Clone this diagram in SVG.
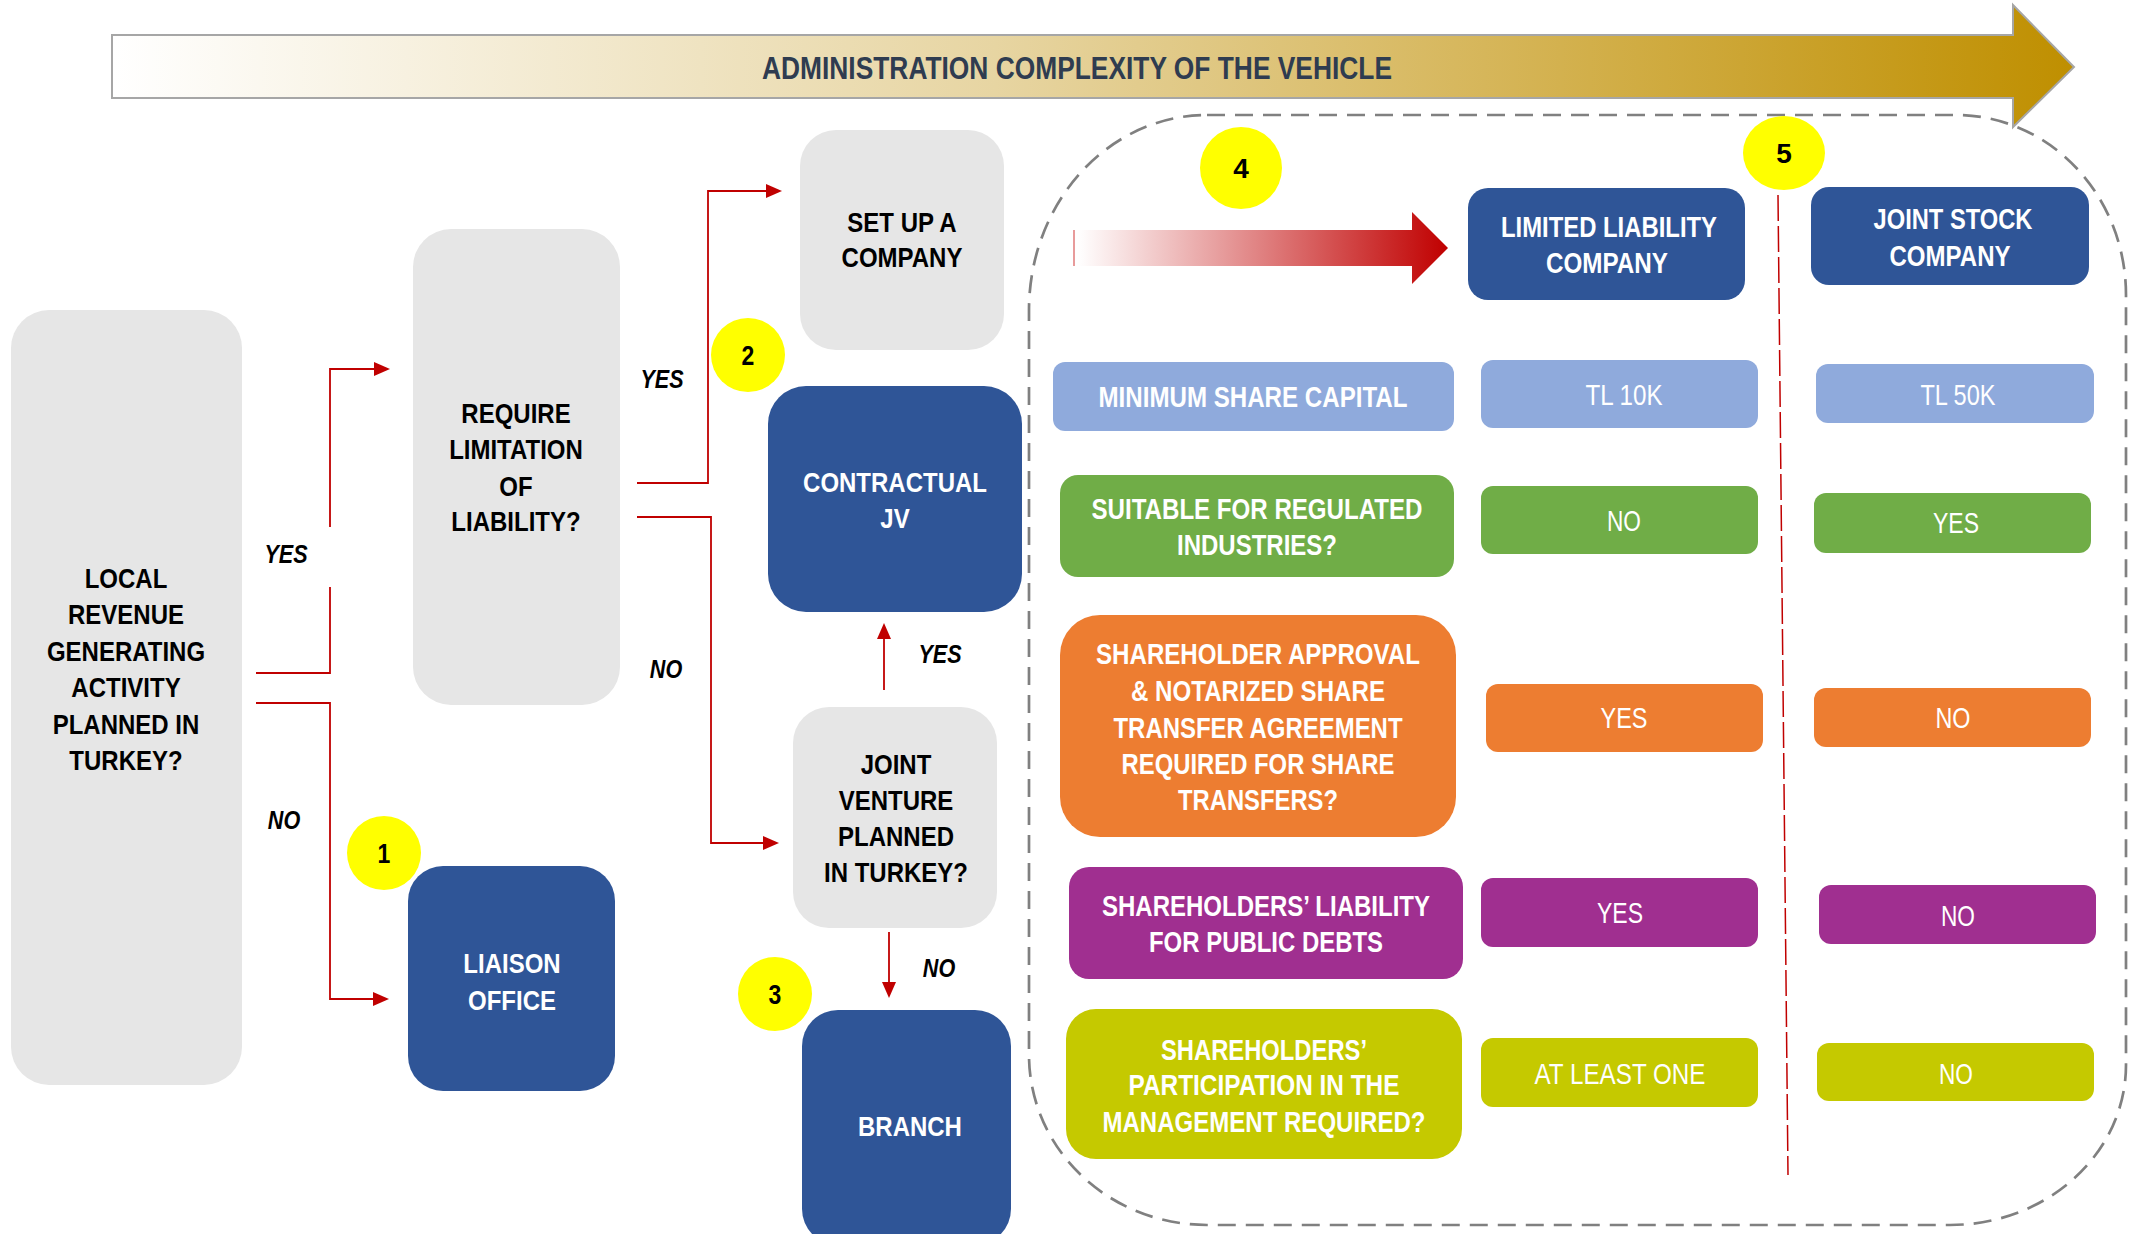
<svg xmlns="http://www.w3.org/2000/svg" width="2135" height="1234" viewBox="0 0 2135 1234">
<defs>
  <linearGradient id="gBanner" gradientUnits="userSpaceOnUse" x1="112" y1="0" x2="2074" y2="0">
    <stop offset="0" stop-color="#FFFFFF"/>
    <stop offset="0.45" stop-color="#E7D5A2"/>
    <stop offset="0.7" stop-color="#D6B65A"/>
    <stop offset="1" stop-color="#BF8F00"/>
  </linearGradient>
  <linearGradient id="gRed" gradientUnits="userSpaceOnUse" x1="1078" y1="0" x2="1448" y2="0">
    <stop offset="0" stop-color="#FFFFFF"/>
    <stop offset="1" stop-color="#C00000"/>
  </linearGradient>
  <marker id="ah" viewBox="0 0 16 14" refX="13" refY="7" markerWidth="16" markerHeight="14" markerUnits="userSpaceOnUse" orient="auto">
    <path d="M0,0 L16,7 L0,14 Z" fill="#C00000"/>
  </marker>
  <style>
    .gray{fill:#E6E6E6}
    .blue{fill:#2F5597}
    .tb{font-family:"Liberation Sans",Arial,sans-serif;font-weight:bold;font-size:28px;fill:#000;text-anchor:middle}
    .tw{font-family:"Liberation Sans",Arial,sans-serif;font-weight:bold;font-size:28px;fill:#FFF;text-anchor:middle}
    .lbl{font-family:"Liberation Sans",Arial,sans-serif;font-weight:bold;font-style:italic;font-size:26px;fill:#000;text-anchor:middle}
    .num{font-family:"Liberation Sans",Arial,sans-serif;font-weight:bold;font-size:28px;fill:#000;text-anchor:middle}
    .nb{font-family:"Liberation Sans Narrow","Arial Narrow","Liberation Sans",Arial,sans-serif;font-weight:bold;font-size:29px;fill:#FFF;text-anchor:middle}
    .nr{font-family:"Liberation Sans Narrow","Arial Narrow","Liberation Sans",Arial,sans-serif;font-weight:normal;font-size:29px;fill:#FFF;text-anchor:middle}
    .badge{fill:#FFFF00}
    .conn{fill:none;stroke:#C00000;stroke-width:1.8}
    .lb{fill:#8FAADC}.gr{fill:#70AD47}.or{fill:#ED7D31}.pu{fill:#A02F90}.yg{fill:#C5C900}
  </style>
</defs>

<!-- Banner arrow -->
<g id="banner">
  <polygon points="112,35 2013,35 2013,5 2074,67 2013,127 2013,98 112,98" fill="url(#gBanner)" stroke="#A6A6A6" stroke-width="2"/>
  <text x="1077" y="79" font-family="'Liberation Sans Narrow','Arial Narrow','Liberation Sans',Arial,sans-serif" font-weight="bold" font-size="31" fill="#2F3C50" text-anchor="middle" textLength="630" lengthAdjust="spacingAndGlyphs">ADMINISTRATION COMPLEXITY OF THE VEHICLE</text>
</g>

<!-- Dashed container -->
<g id="container">
  <path d="M1207,115 H1956 A170,180 0 0 1 2126,295 V1065 A176,160 0 0 1 1950,1225 H1207 A178,170 0 0 1 1029,1055 V310 A178,195 0 0 1 1207,115 Z" fill="none" stroke="#808080" stroke-width="2.7" stroke-dasharray="18 10"/>
  <line x1="1778" y1="195" x2="1788" y2="1175" stroke="#C00000" stroke-width="1.5" stroke-dasharray="26 5"/>
</g>

<!-- Connectors -->
<g id="connectors">
  <path class="conn" d="M256,673 H330 V587"/>
  <path class="conn" d="M330,527 V369 H387" marker-end="url(#ah)"/>
  <path class="conn" d="M256,703 H330 V999 H386" marker-end="url(#ah)"/>
  <path class="conn" d="M637,483 H708 V191 H779" marker-end="url(#ah)"/>
  <path class="conn" d="M637,517 H711 V843 H776" marker-end="url(#ah)"/>
  <path class="conn" d="M884,690 V626" marker-end="url(#ah)"/>
  <path class="conn" d="M889,932 V995" marker-end="url(#ah)"/>
  <text class="lbl" transform="matrix(0.83 0 0 1 48.62 0)" x="286" y="563.5">YES</text>
  <text class="lbl" transform="matrix(0.83 0 0 1 48.28 0)" x="284" y="829.5">NO</text>
  <text class="lbl" transform="matrix(0.83 0 0 1 112.54 0)" x="662" y="388.5">YES</text>
  <text class="lbl" transform="matrix(0.83 0 0 1 113.22 0)" x="666" y="678.5">NO</text>
  <text class="lbl" transform="matrix(0.83 0 0 1 159.8 0)" x="940" y="663.5">YES</text>
  <text class="lbl" transform="matrix(0.83 0 0 1 159.63 0)" x="939" y="977.5">NO</text>
</g>

<!-- Flowchart nodes -->
<g id="n-local">
  <rect class="gray" x="11" y="310" width="231" height="775" rx="38"/>
  <g transform="matrix(0.857 0 0 1 18.02 0)">
    <text class="tb" x="126" y="588">LOCAL</text>
    <text class="tb" x="126" y="624.5">REVENUE</text>
    <text class="tb" x="126" y="661">GENERATING</text>
    <text class="tb" x="126" y="697.5">ACTIVITY</text>
    <text class="tb" x="126" y="734">PLANNED IN</text>
    <text class="tb" x="126" y="770.5">TURKEY?</text>
  </g>
</g>
<g id="n-require">
  <rect class="gray" x="413" y="229" width="207" height="476" rx="38"/>
  <g transform="matrix(0.857 0 0 1 73.79 0)">
    <text class="tb" x="516" y="423.5">REQUIRE</text>
    <text class="tb" x="516" y="459.5">LIMITATION</text>
    <text class="tb" x="516" y="496">OF</text>
    <text class="tb" x="516" y="531.5">LIABILITY?</text>
  </g>
</g>
<g id="n-liaison">
  <rect class="blue" x="408" y="866" width="207" height="225" rx="35"/>
  <g transform="matrix(0.857 0 0 1 73.22 0)">
    <text class="tw" x="512" y="973.5">LIAISON</text>
    <text class="tw" x="512" y="1010">OFFICE</text>
  </g>
</g>
<g id="n-setup">
  <rect class="gray" x="800" y="130" width="204" height="220" rx="36"/>
  <g transform="matrix(0.857 0 0 1 128.99 0)">
    <text class="tb" x="902" y="232.5">SET UP A</text>
    <text class="tb" x="902" y="267.5">COMPANY</text>
  </g>
</g>
<g id="n-contractual">
  <rect class="blue" x="768" y="386" width="254" height="226" rx="38"/>
  <g transform="matrix(0.857 0 0 1 127.99 0)">
    <text class="tw" x="895" y="492">CONTRACTUAL</text>
    <text class="tw" x="895" y="528">JV</text>
  </g>
</g>
<g id="n-jv">
  <rect class="gray" x="793" y="707" width="204" height="221" rx="36"/>
  <g transform="matrix(0.857 0 0 1 128.13 0)">
    <text class="tb" x="896" y="774">JOINT</text>
    <text class="tb" x="896" y="810">VENTURE</text>
    <text class="tb" x="896" y="846">PLANNED</text>
    <text class="tb" x="896" y="882">IN TURKEY?</text>
  </g>
</g>
<g id="n-branch">
  <rect class="blue" x="802" y="1010" width="209" height="235" rx="36"/>
  <g transform="matrix(0.857 0 0 1 130.13 0)">
    <text class="tw" x="910" y="1136">BRANCH</text>
  </g>
</g>

<!-- Badges -->
<g id="b1"><circle class="badge" cx="384" cy="853" r="37"/><text class="num" transform="matrix(0.82 0 0 1 69.12 0)" x="384" y="863">1</text></g>
<g id="b2"><circle class="badge" cx="748" cy="355" r="37"/><text class="num" transform="matrix(0.82 0 0 1 134.64 0)" x="748" y="365">2</text></g>
<g id="b3"><circle class="badge" cx="775" cy="994" r="37"/><text class="num" transform="matrix(0.82 0 0 1 139.5 0)" x="775" y="1004">3</text></g>
<g id="b4"><circle class="badge" cx="1241" cy="168" r="41"/><text class="nb" style="fill:#000;font-size:28px" x="1241" y="178">4</text></g>
<g id="b5"><ellipse class="badge" cx="1784" cy="153" rx="41" ry="37"/><text class="nb" style="fill:#000;font-size:28px" x="1784" y="163">5</text></g>

<!-- Red gradient arrow -->
<g id="red-arrow">
  <polygon points="1074,230 1412,230 1412,212 1448,248 1412,284 1412,266 1074,266" fill="url(#gRed)"/>
  <line x1="1074" y1="230" x2="1074" y2="266" stroke="#E07A7A" stroke-width="1.5"/>
</g>

<!-- Table headers -->
<g id="h-llc">
  <rect class="blue" x="1468" y="188" width="277" height="112" rx="20"/>
  <text class="nb" x="1609" y="237" textLength="216" lengthAdjust="spacingAndGlyphs">LIMITED LIABILITY</text>
  <text class="nb" x="1607" y="273" textLength="122" lengthAdjust="spacingAndGlyphs">COMPANY</text>
</g>
<g id="h-jsc">
  <rect class="blue" x="1811" y="187" width="278" height="98" rx="18"/>
  <text class="nb" x="1953" y="229" textLength="159" lengthAdjust="spacingAndGlyphs">JOINT STOCK</text>
  <text class="nb" x="1950" y="266" textLength="121" lengthAdjust="spacingAndGlyphs">COMPANY</text>
</g>

<!-- Row 1 -->
<g id="r1-label">
  <rect class="lb" x="1053" y="362" width="401" height="69" rx="12"/>
  <text class="nb" x="1253" y="407" textLength="309" lengthAdjust="spacingAndGlyphs">MINIMUM SHARE CAPITAL</text>
</g>
<g id="r1-llc">
  <rect class="lb" x="1481" y="360" width="277" height="68" rx="12"/>
  <text class="nr" x="1624" y="405" textLength="77" lengthAdjust="spacingAndGlyphs">TL 10K</text>
</g>
<g id="r1-jsc">
  <rect class="lb" x="1816" y="364" width="278" height="59" rx="12"/>
  <text class="nr" x="1958" y="405" textLength="75" lengthAdjust="spacingAndGlyphs">TL 50K</text>
</g>

<!-- Row 2 -->
<g id="r2-label">
  <rect class="gr" x="1060" y="475" width="394" height="102" rx="18"/>
  <text class="nb" x="1257" y="519" textLength="331" lengthAdjust="spacingAndGlyphs">SUITABLE FOR REGULATED</text>
  <text class="nb" x="1257" y="555" textLength="160" lengthAdjust="spacingAndGlyphs">INDUSTRIES?</text>
</g>
<g id="r2-llc">
  <rect class="gr" x="1481" y="486" width="277" height="68" rx="12"/>
  <text class="nr" x="1624" y="531" textLength="34" lengthAdjust="spacingAndGlyphs">NO</text>
</g>
<g id="r2-jsc">
  <rect class="gr" x="1814" y="493" width="277" height="60" rx="12"/>
  <text class="nr" x="1956" y="533" textLength="46" lengthAdjust="spacingAndGlyphs">YES</text>
</g>

<!-- Row 3 -->
<g id="r3-label">
  <rect class="or" x="1060" y="615" width="396" height="222" rx="40"/>
  <text class="nb" x="1258" y="664" textLength="324" lengthAdjust="spacingAndGlyphs">SHAREHOLDER APPROVAL</text>
  <text class="nb" x="1258" y="701" textLength="254" lengthAdjust="spacingAndGlyphs">&amp; NOTARIZED SHARE</text>
  <text class="nb" x="1258" y="738" textLength="289" lengthAdjust="spacingAndGlyphs">TRANSFER AGREEMENT</text>
  <text class="nb" x="1258" y="773.5" textLength="273" lengthAdjust="spacingAndGlyphs">REQUIRED FOR SHARE</text>
  <text class="nb" x="1258" y="810" textLength="160" lengthAdjust="spacingAndGlyphs">TRANSFERS?</text>
</g>
<g id="r3-llc">
  <rect class="or" x="1486" y="684" width="277" height="68" rx="12"/>
  <text class="nr" x="1624" y="728" textLength="47" lengthAdjust="spacingAndGlyphs">YES</text>
</g>
<g id="r3-jsc">
  <rect class="or" x="1814" y="688" width="277" height="59" rx="12"/>
  <text class="nr" x="1953" y="728" textLength="35" lengthAdjust="spacingAndGlyphs">NO</text>
</g>

<!-- Row 4 -->
<g id="r4-label">
  <rect class="pu" x="1069" y="867" width="394" height="112" rx="20"/>
  <text class="nb" x="1266" y="916" textLength="328" lengthAdjust="spacingAndGlyphs">SHAREHOLDERS’ LIABILITY</text>
  <text class="nb" x="1266" y="952" textLength="234" lengthAdjust="spacingAndGlyphs">FOR PUBLIC DEBTS</text>
</g>
<g id="r4-llc">
  <rect class="pu" x="1481" y="878" width="277" height="69" rx="12"/>
  <text class="nr" x="1620" y="923" textLength="46" lengthAdjust="spacingAndGlyphs">YES</text>
</g>
<g id="r4-jsc">
  <rect class="pu" x="1819" y="885" width="277" height="59" rx="12"/>
  <text class="nr" x="1958" y="926" textLength="34" lengthAdjust="spacingAndGlyphs">NO</text>
</g>

<!-- Row 5 -->
<g id="r5-label">
  <rect class="yg" x="1066" y="1009" width="396" height="150" rx="30"/>
  <text class="nb" x="1264" y="1059.5" textLength="206" lengthAdjust="spacingAndGlyphs">SHAREHOLDERS’</text>
  <text class="nb" x="1264" y="1095" textLength="271" lengthAdjust="spacingAndGlyphs">PARTICIPATION IN THE</text>
  <text class="nb" x="1264" y="1132" textLength="323" lengthAdjust="spacingAndGlyphs">MANAGEMENT REQUIRED?</text>
</g>
<g id="r5-llc">
  <rect class="yg" x="1481" y="1038" width="277" height="69" rx="12"/>
  <text class="nr" x="1620" y="1083.5" textLength="171" lengthAdjust="spacingAndGlyphs">AT LEAST ONE</text>
</g>
<g id="r5-jsc">
  <rect class="yg" x="1817" y="1043" width="277" height="58" rx="12"/>
  <text class="nr" x="1956" y="1083.5" textLength="34" lengthAdjust="spacingAndGlyphs">NO</text>
</g>
</svg>
